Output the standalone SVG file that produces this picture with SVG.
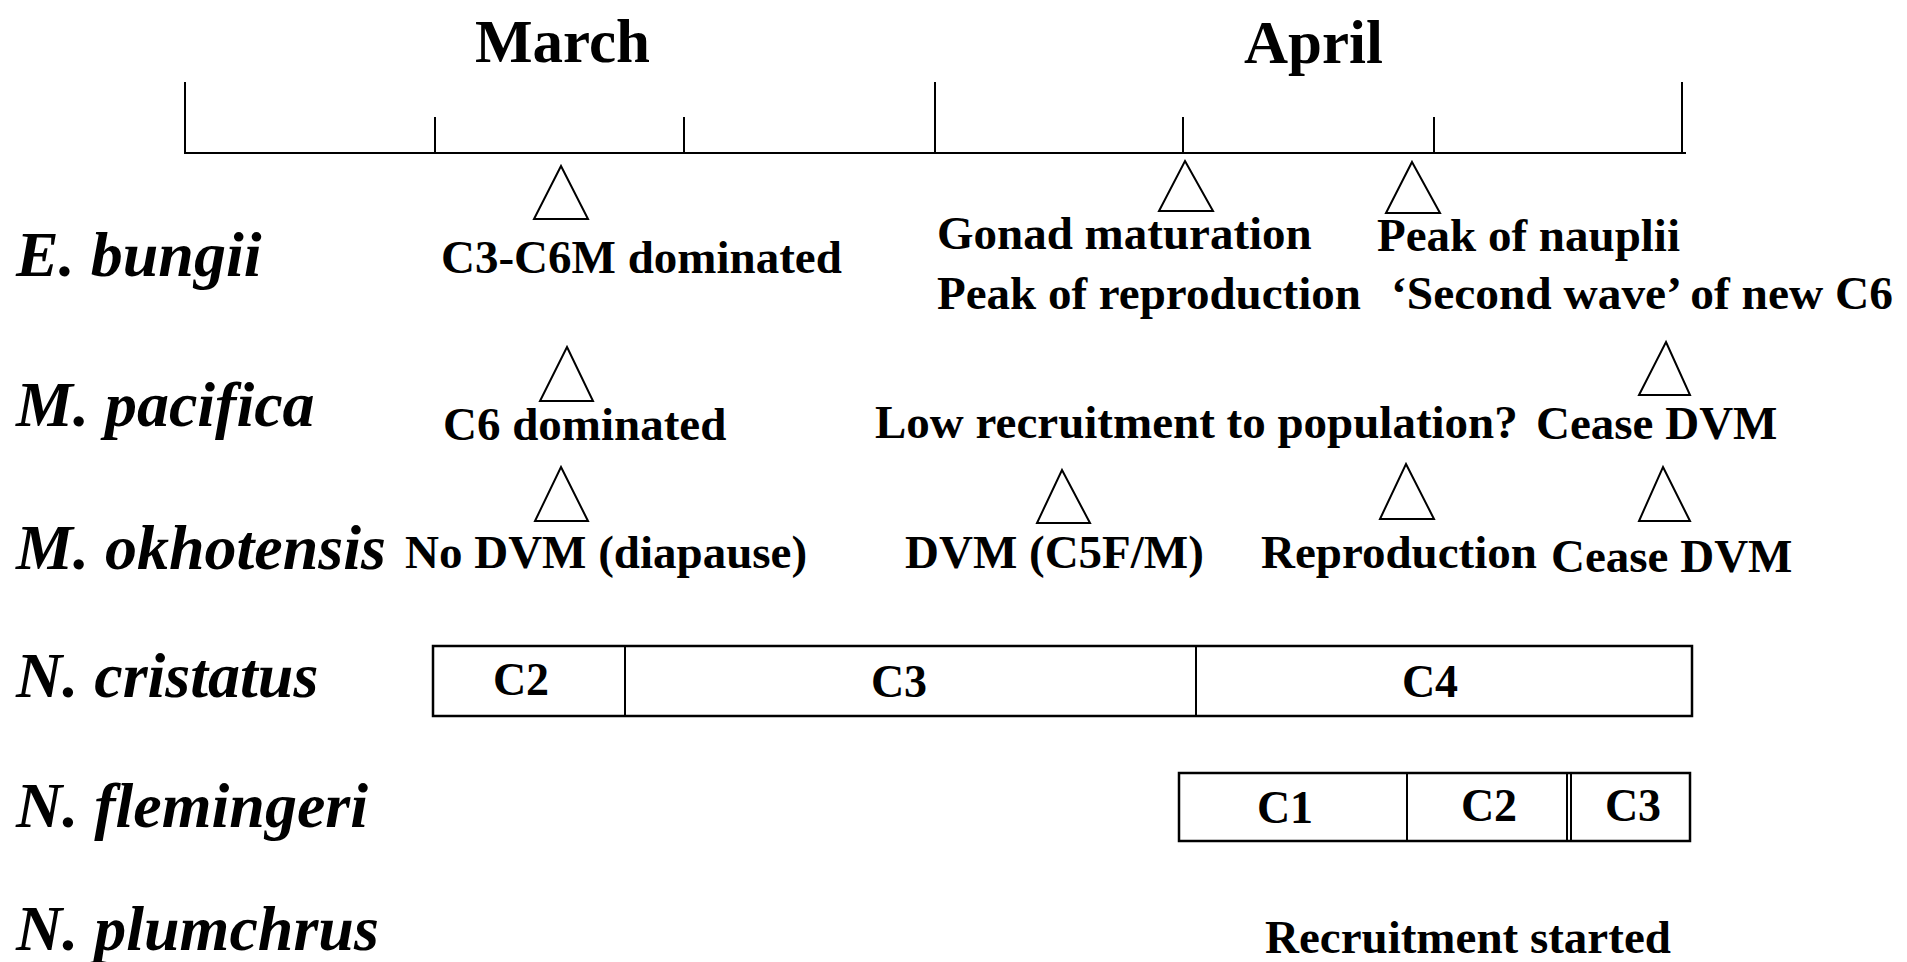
<svg xmlns="http://www.w3.org/2000/svg" width="1907" height="962" viewBox="0 0 1907 962">
<defs>
<style>
.sp{font-family:"Liberation Serif","Times New Roman",serif;font-weight:bold;font-style:italic;font-size:64px;fill:#000}
.lb{font-family:"Liberation Serif","Times New Roman",serif;font-weight:bold;font-size:47px;fill:#000}
.mo{font-family:"Liberation Serif","Times New Roman",serif;font-weight:bold;font-size:61px;fill:#000}
.bx{font-family:"Liberation Serif","Times New Roman",serif;font-weight:bold;font-size:46px;fill:#000;text-anchor:middle}
.ln{stroke:#000;stroke-width:2;fill:none}
.tri{stroke:#000;stroke-width:2;fill:#fff;stroke-linejoin:miter}
.box{stroke:#000;stroke-width:2.5;fill:#fff}
</style>
</defs>
<rect width="1907" height="962" fill="#fff"/>
<g id="timeline">
<text class="mo" x="475" y="62">March</text>
<text class="mo" x="1244" y="63">April</text>
<line class="ln" x1="184" y1="153" x2="1686" y2="153" stroke-width="3"/>
<line class="ln" x1="185" y1="82" x2="185" y2="153"/>
<line class="ln" x1="935" y1="82" x2="935" y2="153"/>
<line class="ln" x1="1682" y1="82" x2="1682" y2="153"/>
<line class="ln" x1="435" y1="117" x2="435" y2="153"/>
<line class="ln" x1="684" y1="117" x2="684" y2="153"/>
<line class="ln" x1="1183" y1="117" x2="1183" y2="153"/>
<line class="ln" x1="1434" y1="117" x2="1434" y2="153"/>
</g>
<g id="e-bungii">
<text class="sp" x="16" y="276">E. bungii</text>
<polygon class="tri" points="561,166 588,219 534,219"/>
<text class="lb" x="441" y="273">C3-C6M dominated</text>
<polygon class="tri" points="1185,161 1213,211 1159,211"/>
<text class="lb" x="937" y="249">Gonad maturation</text>
<text class="lb" x="937" y="309">Peak of reproduction</text>
<polygon class="tri" points="1412,162 1440,213 1386,213"/>
<text class="lb" x="1377" y="251">Peak of nauplii</text>
<text class="lb" x="1391" y="309" textLength="502" lengthAdjust="spacingAndGlyphs">‘Second wave’ of new C6</text>
</g>
<g id="m-pacifica">
<text class="sp" x="16" y="426">M. pacifica</text>
<polygon class="tri" points="567,347 593,401 540,401"/>
<text class="lb" x="443" y="440">C6 dominated</text>
<text class="lb" x="875" y="438">Low recruitment to population?</text>
<polygon class="tri" points="1666,342 1690,395 1639,395"/>
<text class="lb" x="1536" y="439">Cease DVM</text>
</g>
<g id="m-okhotensis">
<text class="sp" x="16" y="569">M. okhotensis</text>
<polygon class="tri" points="561,467 588,521 535,521"/>
<text class="lb" x="405" y="568">No DVM (diapause)</text>
<polygon class="tri" points="1062,470 1090,523 1037,523"/>
<text class="lb" x="905" y="568">DVM (C5F/M)</text>
<polygon class="tri" points="1406,464 1434,519 1380,519"/>
<text class="lb" x="1261" y="568">Reproduction</text>
<polygon class="tri" points="1663,467 1690,521 1639,521"/>
<text class="lb" x="1551" y="572">Cease DVM</text>
</g>
<g id="n-cristatus">
<text class="sp" x="16" y="697">N. cristatus</text>
<rect class="box" x="433" y="646" width="1259" height="70"/>
<line class="ln" x1="625" y1="646" x2="625" y2="716" stroke-width="2.5"/>
<line class="ln" x1="1196" y1="646" x2="1196" y2="716" stroke-width="2.5"/>
<text class="bx" x="521" y="695">C2</text>
<text class="bx" x="899" y="697">C3</text>
<text class="bx" x="1430" y="697">C4</text>
</g>
<g id="n-flemingeri">
<text class="sp" x="16" y="827">N. flemingeri</text>
<rect class="box" x="1179" y="773" width="511" height="68"/>
<line class="ln" x1="1407" y1="773" x2="1407" y2="841" stroke-width="2.5"/>
<line class="ln" x1="1567" y1="773" x2="1567" y2="841" stroke-width="2"/>
<line class="ln" x1="1571" y1="773" x2="1571" y2="841" stroke-width="2"/>
<text class="bx" x="1285" y="823">C1</text>
<text class="bx" x="1489" y="821">C2</text>
<text class="bx" x="1633" y="821">C3</text>
</g>
<g id="n-plumchrus">
<text class="sp" x="16" y="950">N. plumchrus</text>
<text class="lb" x="1265" y="953">Recruitment started</text>
</g>
<g id="connectors"></g>
</svg>
